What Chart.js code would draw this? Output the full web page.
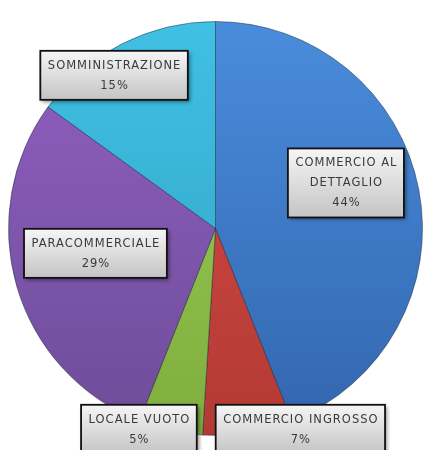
<!DOCTYPE html>
<html>
<head>
<meta charset="utf-8">
<script src="https://cdn.jsdelivr.net/npm/chart.js@4.4.0/dist/chart.umd.min.js"></script>
<style>
  html, body { margin: 0; padding: 0; background: #ffffff; }
  #wrap { width: 424px; height: 450px; }
</style>
</head>
<body>
<div id="wrap"><canvas id="pie-chart"></canvas></div>
<script>
const categories = ["COMMERCIO AL DETTAGLIO", "COMMERCIO INGROSSO", "LOCALE VUOTO", "PARACOMMERCIALE", "SOMMINISTRAZIONE"];
const labelLines = [["COMMERCIO AL", "DETTAGLIO"], ["COMMERCIO INGROSSO"], ["LOCALE VUOTO"], ["PARACOMMERCIALE"], ["SOMMINISTRAZIONE"]];
const shares = [44, 7, 5, 29, 15];

// top / bottom colours of each slice's vertical gradient
const colorsTop = ["#4a8cdc", "#d84a44", "#9ccd58", "#915fc2", "#40c0e4"];
const colorsBottom = ["#3266ae", "#b33a34", "#7fae3e", "#6d4d98", "#2ea2c4"];

// label box centre, relative to pie centre, in units of radius
const labelOffsets = [[0.63, -0.22], [0.41, 0.97], [-0.37, 0.97], [-0.58, 0.12], [-0.49, -0.74]];

document.addEventListener("DOMContentLoaded", () => {
  const ctx = document.getElementById("pie-chart").getContext("2d");

  function sliceFill(context) {
    const area = context.chart.chartArea;
    if (!area) return colorsTop[context.dataIndex];
    const g = context.chart.ctx.createLinearGradient(0, area.top, 0, area.bottom);
    g.addColorStop(0, colorsTop[context.dataIndex]);
    g.addColorStop(1, colorsBottom[context.dataIndex]);
    return g;
  }

  const labelBoxes = {
    id: "labelBoxes",
    afterDatasetsDraw(chart) {
      const c = chart.ctx;
      const arcs = chart.getDatasetMeta(0).data;
      const total = shares.reduce((a, b) => a + b, 0);
      c.save();
      c.font = "11.5px 'DejaVu Sans'";
      c.letterSpacing = "1px";
      arcs.forEach((arc, i) => {
        const R = arc.outerRadius;
        const cx = arc.x + labelOffsets[i][0] * R;
        const cy = arc.y + labelOffsets[i][1] * R;
        const lines = labelLines[i].concat([Math.round(shares[i] / total * 100) + "%"]);
        const textW = Math.max(...lines.map(l => c.measureText(l).width));
        const w = textW + 14;
        const h = lines.length * 20 + 9;
        const x = cx - w / 2;
        const y = cy - h / 2;

        c.shadowColor = "rgba(0,0,0,0.45)";
        c.shadowBlur = 4;
        c.shadowOffsetX = 2;
        c.shadowOffsetY = 2;
        const g = c.createLinearGradient(0, y, 0, y + h);
        g.addColorStop(0, "#f6f6f6");
        g.addColorStop(1, "#c4c4c4");
        c.fillStyle = g;
        c.fillRect(x, y, w, h);
        c.shadowColor = "transparent";
        c.lineWidth = 1.8;
        c.strokeStyle = "#111111";
        c.strokeRect(x, y, w, h);

        c.fillStyle = "#3a3a3a";
        c.textAlign = "center";
        c.textBaseline = "middle";
        lines.forEach((l, k) => c.fillText(l, cx + 0.5, y + 15 + k * 20));
      });
      c.restore();
    }
  };

  new Chart(ctx, {
    type: "pie",
    data: {
      labels: categories,
      datasets: [{
        data: shares,
        backgroundColor: sliceFill,
        borderColor: "rgba(20,30,50,0.45)",
        borderWidth: 1
      }]
    },
    options: {
      responsive: true,
      maintainAspectRatio: false,
      animation: false,
      layout: { padding: { left: 8, right: 1, top: 21, bottom: 14 } },
      plugins: {
        legend: { display: false },
        tooltip: { enabled: false }
      }
    },
    plugins: [labelBoxes]
  });
});
</script>
</body>
</html>
